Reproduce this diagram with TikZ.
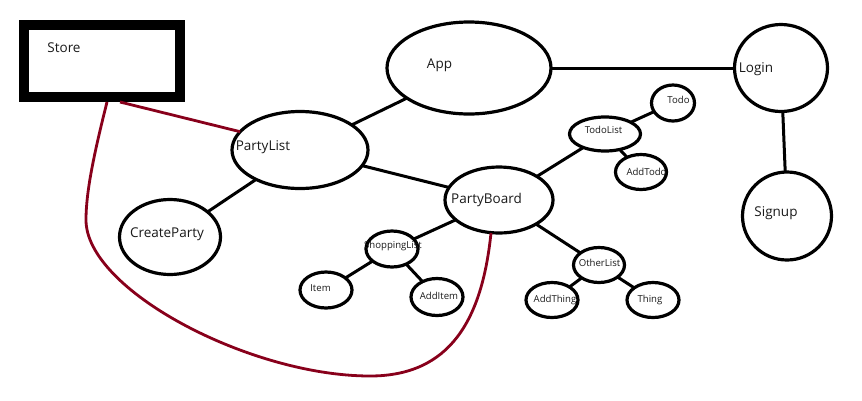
\documentclass[tikz,border=0pt]{standalone}
\usepackage{fontspec}
\setmainfont{Open Sans}
\usetikzlibrary{shapes.geometric}
\definecolor{linkred}{HTML}{88001B}
\definecolor{txt}{HTML}{1A1A1A}
\tikzset{
  ell/.style={draw, line width=3.2pt, ellipse, inner sep=0pt, outer sep=0pt, fill=white},
  edge/.style={line width=3pt, black},
  redlink/.style={line width=2.8pt, linkred},
  bigtxt/.style={inner sep=0pt, text=txt, font=\fontsize{13.5}{16}\selectfont},
  smalltxt/.style={inner sep=0pt, text=txt, font=\fontsize{9.6}{12}\selectfont},
}
\begin{document}
\begin{tikzpicture}[x=1pt,y=-1pt]
\useasboundingbox (0,0) rectangle (862,400);
% Store
\node[draw, line width=10pt, minimum width=156pt, minimum height=72pt, inner sep=0pt, outer sep=5pt] (store) at (102,61) {};
% ellipses
\node[ell, minimum width=164pt, minimum height=92pt] (app) at (469,68) {};
\node[ell, minimum width=93pt, minimum height=87pt] (login) at (781,68) {};
\node[ell, minimum width=89pt, minimum height=88pt] (signup) at (787,216) {};
\node[ell, minimum width=136pt, minimum height=77pt] (partylist) at (300,150) {};
\node[ell, minimum width=101pt, minimum height=75pt] (createparty) at (170,237) {};
\node[ell, minimum width=108pt, minimum height=66pt] (partyboard) at (499,200) {};
\node[ell, minimum width=52pt, minimum height=36pt] (shoppinglist) at (392,249) {};
\node[ell, minimum width=52pt, minimum height=36pt] (item) at (326,290) {};
\node[ell, minimum width=52pt, minimum height=37pt] (additem) at (437,297) {};
\node[ell, minimum width=71pt, minimum height=34pt] (todolist) at (605,134) {};
\node[ell, minimum width=43pt, minimum height=36pt] (todo) at (673,103) {};
\node[ell, minimum width=51pt, minimum height=35pt] (addtodo) at (641,172) {};
\node[ell, minimum width=51pt, minimum height=35pt] (otherlist) at (599,265) {};
\node[ell, minimum width=52pt, minimum height=35pt] (addthing) at (552,300) {};
\node[ell, minimum width=52pt, minimum height=35pt] (thing) at (653,300) {};
% edges
\draw[edge] (app) -- (login);
\draw[edge] (login) -- (signup);
\draw[edge] (app) -- (partylist);
\draw[edge] (partylist) -- (partyboard);
\draw[edge] (partylist) -- (createparty);
\draw[edge] (partyboard) -- (shoppinglist);
\draw[edge] (partyboard) -- (todolist);
\draw[edge] (partyboard) -- (otherlist);
\draw[edge] (todolist) -- (todo);
\draw[edge] (todolist) -- (addtodo);
\draw[edge] (shoppinglist) -- (item);
\draw[edge] (shoppinglist) -- (additem);
\draw[edge] (otherlist) -- (addthing);
\draw[edge] (otherlist) -- (thing);
% red links
\draw[redlink] ([xshift=18pt]store.south) -- (partylist.163);
\draw[redlink] ([xshift=5pt]store.south) .. controls (95,150) and (86,190) .. (86,220)
  .. controls (86,290) and (250,376) .. (370,376)
  .. controls (450,376) and (482,320) .. ([xshift=-8pt]partyboard.south);
% texts
\node[bigtxt] (storeT) at (64,48) {Store};
\node[bigtxt] (appT) at (439.5,65) {App};
\node[bigtxt] (loginT) at (756,69) {Login};
\node[bigtxt] (signupT) at (776,213) {Signup};
\node[bigtxt] (partylistT) at (263,147) {PartyList};
\node[bigtxt] (createpartyT) at (167,234) {CreateParty};
\node[bigtxt] (partyboardT) at (486.5,200) {PartyBoard};
\node[smalltxt] (shoppinglistT) at (393,246) {ShoppingList};
\node[smalltxt] (itemT) at (320.5,288) {Item};
\node[smalltxt] (additemT) at (439,296) {AddItem};
\node[smalltxt] (todolistT) at (603.5,130) {TodoList};
\node[smalltxt] (todoT) at (678.5,100) {Todo};
\node[smalltxt] (addtodoT) at (646.5,172) {AddTodo};
\node[smalltxt] (otherlistT) at (599.5,263) {OtherList};
\node[smalltxt] (addthingT) at (555,300) {AddThing};
\node[smalltxt] (thingT) at (650,300) {Thing};
\end{tikzpicture}
\end{document}
